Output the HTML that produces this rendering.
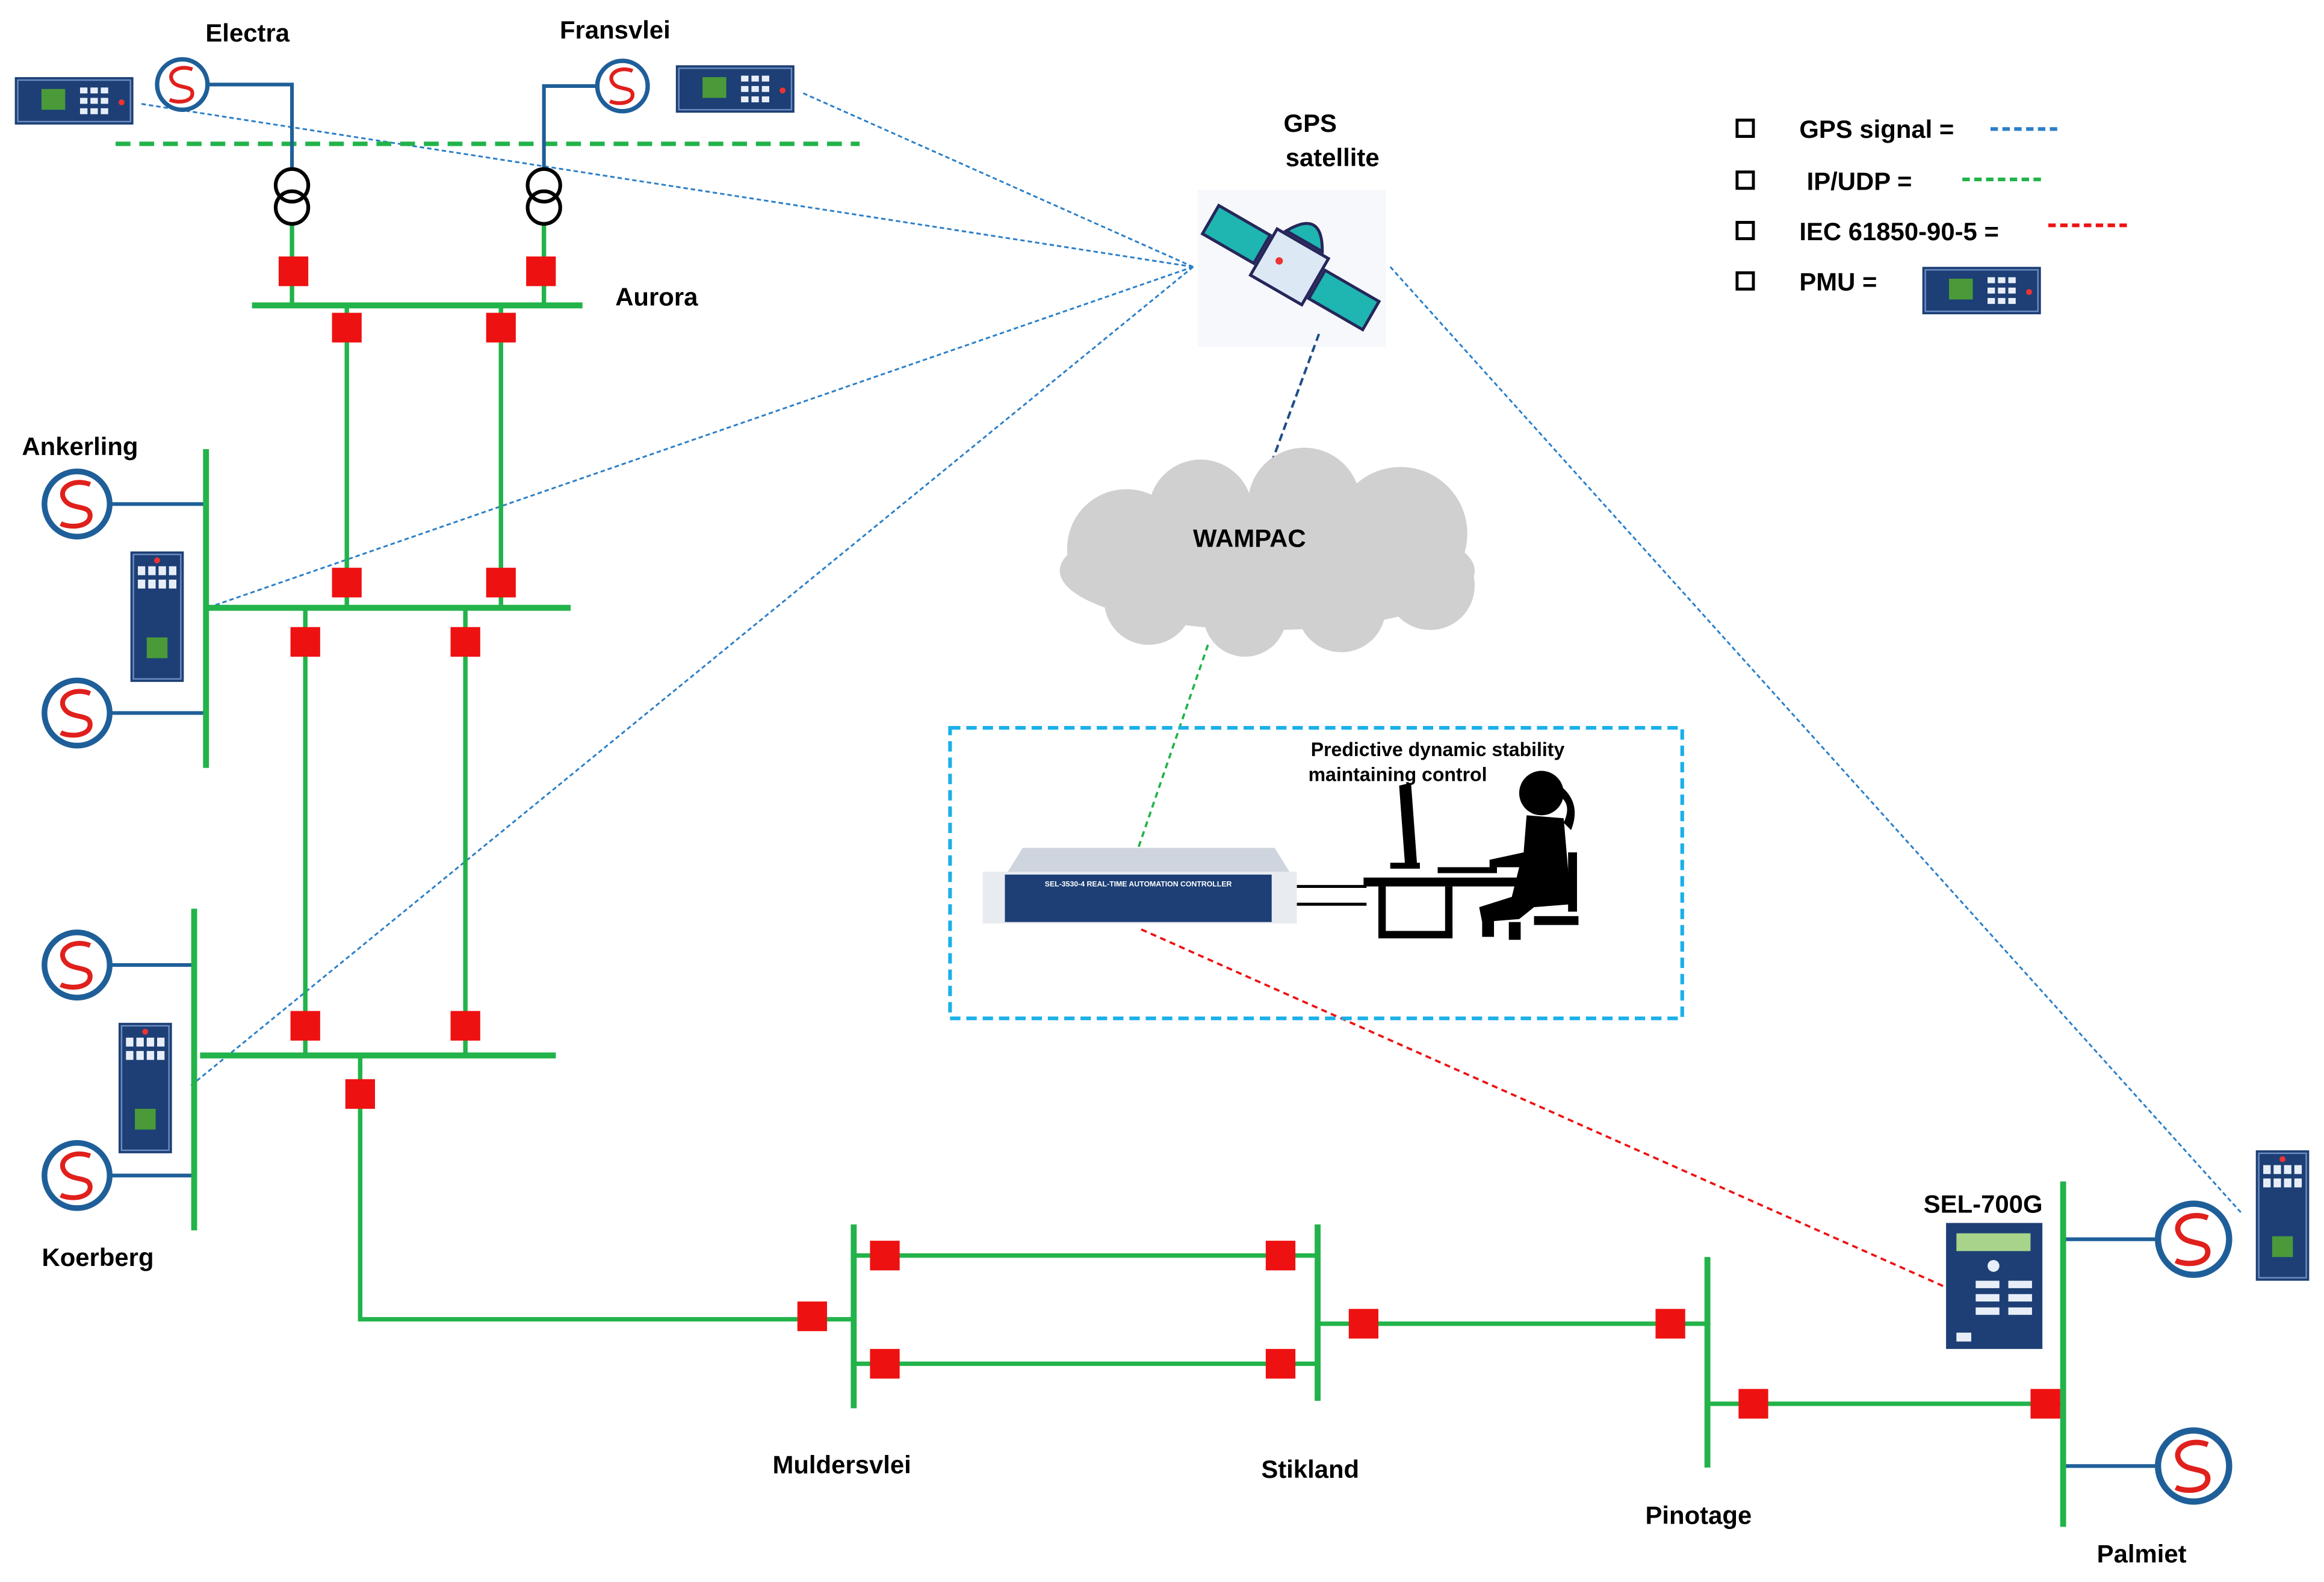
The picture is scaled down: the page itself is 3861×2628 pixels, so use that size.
<!DOCTYPE html>
<html><head><meta charset="utf-8"><style>
html,body{margin:0;padding:0;background:#fff}
svg{display:block}
text{font-family:"Liberation Sans",sans-serif;font-weight:bold;fill:#000}
</style></head><body>
<svg width="3861" height="2628" viewBox="0 0 1568 1067.2" xmlns="http://www.w3.org/2000/svg">
<defs>
<g id="gen"><circle r="20" fill="#fff" stroke="#1f5f99" stroke-width="3.5"/><path d="M8,-12 C-2,-16 -12,-10 -8,-3 C-4,4 8,0 8,7 C8,14 -4,15 -10,12" fill="none" stroke="#e0201c" stroke-width="3"/></g>
<g id="pmuH"><rect x="0" y="0" width="80" height="32" fill="#1d3f75"/><rect x="2" y="2" width="76" height="28" fill="none" stroke="#6a8cc0" stroke-width="1"/><rect x="18" y="8" width="16" height="14" fill="#4a9a3a"/><g fill="#e8eef8"><rect x="44" y="7" width="5" height="4"/><rect x="51" y="7" width="5" height="4"/><rect x="58" y="7" width="5" height="4"/><rect x="44" y="14" width="5" height="4"/><rect x="51" y="14" width="5" height="4"/><rect x="58" y="14" width="5" height="4"/><rect x="44" y="21" width="5" height="4"/><rect x="51" y="21" width="5" height="4"/><rect x="58" y="21" width="5" height="4"/></g><circle cx="72" cy="17" r="2" fill="#e33"/></g>
<g id="pmuV"><rect x="0" y="0" width="36" height="88" fill="#1d3f75"/><rect x="2" y="2" width="32" height="84" fill="none" stroke="#6a8cc0" stroke-width="1"/><g fill="#e8eef8"><rect x="5" y="10" width="5" height="6"/><rect x="12" y="10" width="5" height="6"/><rect x="19" y="10" width="5" height="6"/><rect x="26" y="10" width="5" height="6"/><rect x="5" y="19" width="5" height="6"/><rect x="12" y="19" width="5" height="6"/><rect x="19" y="19" width="5" height="6"/><rect x="26" y="19" width="5" height="6"/></g><rect x="11" y="58" width="14" height="14" fill="#4a9a3a"/><circle cx="18" cy="6" r="2" fill="#e33"/></g>
<g id="tr"><circle cx="0" cy="0" r="11" fill="none" stroke="#000" stroke-width="2.5"/><circle cx="0" cy="15" r="11" fill="none" stroke="#000" stroke-width="2.5"/></g>
</defs>

<!-- GPS dotted lines -->
<g stroke="#2a7fc8" stroke-width="1.2" stroke-dasharray="3,2" fill="none">
<line x1="805" y1="180" x2="95" y2="70"/>
<line x1="805" y1="180" x2="540" y2="62"/>
<line x1="805" y1="180" x2="140" y2="410"/>
<line x1="805" y1="180" x2="128" y2="733"/>
<line x1="938" y1="180" x2="1512" y2="818"/>
</g>
<line x1="890" y1="225" x2="855" y2="320" stroke="#1f4f88" stroke-width="1.6" stroke-dasharray="5,3"/>

<!-- green dashed IP line -->
<line x1="78" y1="97" x2="580" y2="97" stroke="#22b34a" stroke-width="3" stroke-dasharray="10,6"/>

<!-- blue gen connectors -->
<g stroke="#1f5f99" stroke-width="2.5" fill="none">
<polyline points="140,57 197,57 197,114"/>
<polyline points="402,58 367,58 367,114"/>
<line x1="72" y1="340" x2="139" y2="340"/>
<line x1="72" y1="481" x2="139" y2="481"/>
<line x1="72" y1="651" x2="131" y2="651"/>
<line x1="72" y1="793" x2="131" y2="793"/>
<line x1="1392" y1="836" x2="1460" y2="836"/>
<line x1="1392" y1="989" x2="1460" y2="989"/>
</g>

<!-- green network -->
<g stroke="#22b34a" stroke-width="3" fill="none">
<line x1="197" y1="151" x2="197" y2="206"/>
<line x1="367" y1="151" x2="367" y2="206"/>
<line x1="170" y1="206" x2="393" y2="206" stroke-width="4"/>
<line x1="234" y1="206" x2="234" y2="410"/>
<line x1="338" y1="206" x2="338" y2="410"/>
<line x1="140" y1="410" x2="385" y2="410" stroke-width="4"/>
<line x1="139" y1="303" x2="139" y2="518" stroke-width="4"/>
<line x1="206" y1="410" x2="206" y2="712"/>
<line x1="314" y1="410" x2="314" y2="712"/>
<line x1="135" y1="712" x2="375" y2="712" stroke-width="4"/>
<line x1="131" y1="613" x2="131" y2="830" stroke-width="4"/>
<polyline points="243,712 243,890 576,890"/>
<line x1="576" y1="826" x2="576" y2="950" stroke-width="4"/>
<line x1="576" y1="847" x2="889" y2="847"/>
<line x1="576" y1="920" x2="889" y2="920"/>
<line x1="889" y1="826" x2="889" y2="945" stroke-width="4"/>
<line x1="889" y1="893" x2="1152" y2="893"/>
<line x1="1152" y1="848" x2="1152" y2="990" stroke-width="4"/>
<line x1="1152" y1="947" x2="1392" y2="947"/>
<line x1="1392" y1="797" x2="1392" y2="1030" stroke-width="4"/>
</g>

<!-- transformers -->
<use href="#tr" x="197" y="125"/>
<use href="#tr" x="367" y="125"/>

<!-- breakers -->
<g fill="#ee1111">
<rect x="188" y="173" width="20" height="20"/><rect x="355" y="173" width="20" height="20"/>
<rect x="224" y="211" width="20" height="20"/><rect x="328" y="211" width="20" height="20"/>
<rect x="224" y="383" width="20" height="20"/><rect x="328" y="383" width="20" height="20"/>
<rect x="196" y="423" width="20" height="20"/><rect x="304" y="423" width="20" height="20"/>
<rect x="196" y="682" width="20" height="20"/><rect x="304" y="682" width="20" height="20"/>
<rect x="233" y="728" width="20" height="20"/>
<rect x="538" y="878" width="20" height="20"/>
<rect x="587" y="837" width="20" height="20"/><rect x="587" y="910" width="20" height="20"/>
<rect x="854" y="837" width="20" height="20"/><rect x="854" y="910" width="20" height="20"/>
<rect x="910" y="883" width="20" height="20"/><rect x="1117" y="883" width="20" height="20"/>
<rect x="1173" y="937" width="20" height="20"/><rect x="1370" y="937" width="20" height="20"/>
</g>

<!-- generators -->
<use href="#gen" x="123" y="57" transform="translate(123,57) scale(0.85) translate(-123,-57)"/>
<use href="#gen" x="420" y="58" transform="translate(420,58) scale(0.85) translate(-420,-58)"/>
<use href="#gen" x="52" y="340" transform="translate(52,340) scale(1.1) translate(-52,-340)"/>
<use href="#gen" x="52" y="481" transform="translate(52,481) scale(1.1) translate(-52,-481)"/>
<use href="#gen" x="52" y="651" transform="translate(52,651) scale(1.1) translate(-52,-651)"/>
<use href="#gen" x="52" y="793" transform="translate(52,793) scale(1.1) translate(-52,-793)"/>
<use href="#gen" x="1480" y="836" transform="translate(1480,836) scale(1.2) translate(-1480,-836)"/>
<use href="#gen" x="1480" y="989" transform="translate(1480,989) scale(1.2) translate(-1480,-989)"/>

<!-- PMUs -->
<use href="#pmuH" x="10" y="52"/>
<use href="#pmuH" x="456" y="44"/>
<use href="#pmuH" x="1297" y="180"/>
<use href="#pmuV" x="88" y="372"/>
<use href="#pmuV" x="80" y="690"/>
<use href="#pmuV" x="1522" y="776"/>

<!-- SEL-700G -->
<rect x="1313" y="825" width="65" height="85" fill="#1d3f75"/>
<rect x="1320" y="832" width="50" height="12" fill="#a7d48a"/>
<g fill="#e8eef8"><circle cx="1345" cy="854" r="4"/><rect x="1355" y="864" width="16" height="5"/><rect x="1355" y="873" width="16" height="5"/><rect x="1355" y="882" width="16" height="5"/><rect x="1333" y="864" width="16" height="5"/><rect x="1333" y="873" width="16" height="5"/><rect x="1333" y="882" width="16" height="5"/><rect x="1320" y="899" width="10" height="6"/></g>

<!-- satellite -->
<rect x="808" y="128" width="127" height="106" fill="#f7f8fc"/>
<g transform="translate(870,180) rotate(30)">
<rect x="-62" y="-12" width="40" height="22" fill="#1fb5b0" stroke="#26265a" stroke-width="2"/>
<rect x="22" y="-10" width="42" height="22" fill="#1fb5b0" stroke="#26265a" stroke-width="2"/>
<rect x="-20" y="-18" width="40" height="36" fill="#dde8f5" stroke="#26265a" stroke-width="2"/>
<path d="M-14,-20 Q0,-45 14,-20 Z" fill="#1fb5b0" stroke="#26265a" stroke-width="2"/>
<circle cx="-8" cy="0" r="2.5" fill="#e33"/>
</g>
<line x1="855" y1="320" x2="890" y2="225" stroke="#1f4f88" stroke-width="1.6" stroke-dasharray="5,3"/>

<!-- cloud -->
<g fill="#d0d0d0">
<ellipse cx="855" cy="385" rx="140" ry="40"/>
<circle cx="760" cy="370" r="40"/><circle cx="810" cy="345" r="35"/><circle cx="880" cy="340" r="38"/><circle cx="945" cy="360" r="45"/><circle cx="775" cy="405" r="30"/><circle cx="840" cy="415" r="28"/><circle cx="905" cy="410" r="30"/><circle cx="965" cy="395" r="30"/>
</g>
<text x="843" y="369" font-size="17" text-anchor="middle">WAMPAC</text>

<line x1="815" y1="435" x2="768" y2="572" stroke="#22b34a" stroke-width="1.5" stroke-dasharray="4,3"/>
<line x1="770" y1="627" x2="1312" y2="868" stroke="#ee1111" stroke-width="1.5" stroke-dasharray="4,3"/>

<!-- control box -->
<rect x="641" y="491" width="494" height="196" fill="none" stroke="#1ab0ea" stroke-width="2.5" stroke-dasharray="7,4"/>
<rect x="663" y="588" width="212" height="35" fill="#e8ebf0"/>
<path d="M680,588 L690,572 L860,572 L870,588 Z" fill="#cfd5de"/>
<rect x="678" y="590" width="180" height="32" fill="#1d3f75"/>
<text x="768" y="598" font-size="5" style="fill:#fff" text-anchor="middle">SEL-3530-4 REAL-TIME AUTOMATION CONTROLLER</text>
<g stroke="#000" stroke-width="2"><line x1="875" y1="598" x2="922" y2="598"/><line x1="875" y1="610" x2="922" y2="610"/></g>
<text x="970" y="510" font-size="13" text-anchor="middle">Predictive dynamic stability</text>
<text x="943" y="527" font-size="13" text-anchor="middle">maintaining control</text>
<!-- desk/woman silhouette -->
<g fill="#000">
<polygon points="944,530 952,528 956,582 948,584"/>
<rect x="938" y="582" width="20" height="4"/>
<rect x="920" y="592" width="120" height="6"/>
<rect x="930" y="598" width="5" height="34"/><rect x="930" y="628" width="50" height="5"/><rect x="975" y="598" width="5" height="34"/>
<rect x="970" y="585" width="40" height="4"/>
<circle cx="1040" cy="535" r="15"/>
<path d="M1050,528 Q1068,540 1060,560 L1055,555 Q1062,540 1048,535 Z"/>
<path d="M1030,550 L1055,552 L1060,610 L1035,612 L1025,620 L1000,622 L998,612 L1020,605 L1025,585 L1005,585 L1005,580 L1028,575 Z"/>
<rect x="1000" y="612" width="8" height="20"/><rect x="1018" y="622" width="8" height="12"/>
<rect x="1058" y="575" width="6" height="40"/><rect x="1035" y="618" width="30" height="6"/>
</g>

<!-- labels -->
<g font-size="17">
<text x="167" y="28" text-anchor="middle">Electra</text>
<text x="415" y="26" text-anchor="middle">Fransvlei</text>
<text x="443" y="206" text-anchor="middle">Aurora</text>
<text x="54" y="307" text-anchor="middle">Ankerling</text>
<text x="66" y="854" text-anchor="middle">Koerberg</text>
<text x="568" y="994" text-anchor="middle">Muldersvlei</text>
<text x="884" y="997" text-anchor="middle">Stikland</text>
<text x="1146" y="1028" text-anchor="middle">Pinotage</text>
<text x="1445" y="1054" text-anchor="middle">Palmiet</text>
<text x="1338" y="818" text-anchor="middle">SEL-700G</text>
<text x="884" y="89" text-anchor="middle">GPS</text>
<text x="899" y="112" text-anchor="middle">satellite</text>
<text x="1214" y="93">GPS signal =</text>
<text x="1219" y="128">IP/UDP =</text>
<text x="1214" y="162">IEC 61850-90-5 =</text>
<text x="1214" y="196">PMU =</text>
</g>
<g fill="#fff" stroke="#000" stroke-width="2">
<rect x="1172" y="81" width="11" height="11"/><rect x="1172" y="116" width="11" height="11"/><rect x="1172" y="150" width="11" height="11"/><rect x="1172" y="184" width="11" height="11"/>
</g>
<line x1="1343" y1="87" x2="1388" y2="87" stroke="#2a7fc8" stroke-width="2.5" stroke-dasharray="5,3"/>
<line x1="1324" y1="121" x2="1378" y2="121" stroke="#22b34a" stroke-width="2.5" stroke-dasharray="5,3"/>
<line x1="1382" y1="152" x2="1436" y2="152" stroke="#ee1111" stroke-width="2.5" stroke-dasharray="5,3"/>
</svg>
</body></html>
